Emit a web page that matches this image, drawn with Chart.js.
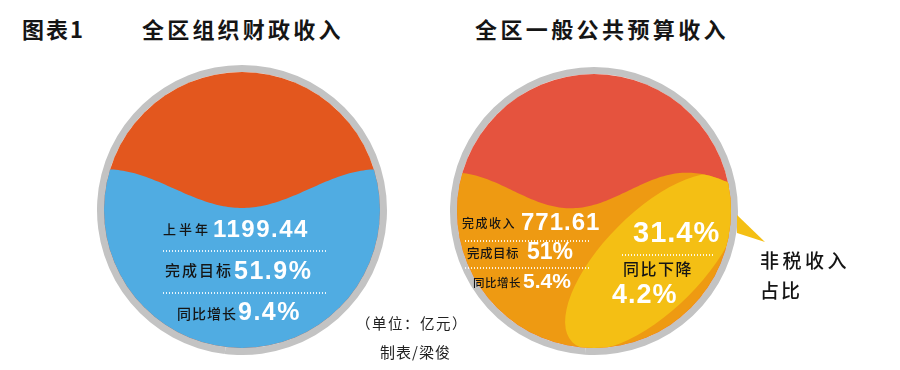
<!DOCTYPE html>
<html><head><meta charset="utf-8">
<script src="https://cdn.jsdelivr.net/npm/chart.js@4.4.1/dist/chart.umd.min.js"></script>
<style>
html,body{margin:0;padding:0;background:#fff}
body{width:900px;height:370px;position:relative;overflow:hidden;font-family:"Noto Sans CJK SC","Noto Sans",sans-serif}
.t{position:absolute;white-space:nowrap;line-height:1}
.num{font-family:"Liberation Sans",Arial,sans-serif;font-weight:700;color:#fff}
.dots{position:absolute;height:2px;background-image:linear-gradient(to right,rgba(255,255,255,.85) 50%,transparent 50%);background-size:3px 2px}
canvas{position:absolute}
</style>
</head><body>
<canvas id="c1" width="290" height="290" style="left:97px;top:65px"></canvas>
<canvas id="c2" width="330" height="288" style="left:450px;top:67px"></canvas>
<script>
// ---- data ----
const figureLabel = "图表1";
const categories = ["全区组织财政收入", "全区一般公共预算收入"];
const revenueLabels = ["上半年", "完成收入"];
const revenueValues = [1199.44, 771.61];
const targetLabel = "完成目标";
const targetPercent = [51.9, 51];
const growthLabel = "同比增长";
const growthPercent = [9.4, 5.4];
const nonTaxShare = [31.4];
const nonTaxChangeLabel = "同比下降";
const nonTaxChange = [4.2];
const nonTaxCaption = ["非税收入", "占比"];
const unitNote = "（单位：亿元）";
const credit = "制表/梁俊";

// ---- helpers for text ----
function addText(txt, x, inkTop, size, o) {
  o = o || {};
  const d = document.createElement('div');
  d.className = 't' + (o.num ? ' num' : '');
  d.textContent = txt;
  const k = o.num ? 0.13 : 0.1;
  d.style.left = x + 'px';
  d.style.top = (inkTop - k * size) + 'px';
  d.style.fontSize = size + 'px';
  if (o.ls != null) d.style.letterSpacing = o.ls + 'px';
  if (!o.num) { d.style.color = o.color || '#151515'; d.style.fontWeight = o.weight || 500; }
  document.body.appendChild(d);
}
function addDots(x1, x2, y) {
  const d = document.createElement('div');
  d.className = 'dots';
  d.style.left = x1 + 'px'; d.style.top = y + 'px'; d.style.width = (x2 - x1) + 'px';
  document.body.appendChild(d);
}

// ---- liquid fill plugin (draws inside doughnut's cutout) ----
const liquidPlugin = {
  id: 'liquid',
  afterDatasetsDraw(chart, args, o) {
    const arc = chart.getDatasetMeta(0).data[0];
    const cx = arc.x, cy = arc.y, r = arc.innerRadius;
    const ctx = chart.ctx;
    const wavePath = () => {
      ctx.beginPath();
      ctx.moveTo(cx - r - 2, cy + r + 2);
      for (let i = 0; i <= 120; i++) {
        const dx = -r - 2 + (2 * r + 4) * i / 120;
        const y = cy + r * (o.base + o.amp * Math.cos(Math.PI * (dx / r - o.shift) / o.half));
        ctx.lineTo(cx + dx, y);
      }
      ctx.lineTo(cx + r + 2, cy + r + 2);
      ctx.closePath();
    };
    ctx.save();
    ctx.beginPath(); ctx.arc(cx, cy, r, 0, Math.PI * 2); ctx.clip();
    ctx.fillStyle = o.top; ctx.fillRect(cx - r, cy - r, 2 * r, 2 * r);
    wavePath(); ctx.fillStyle = o.bottom; ctx.fill();
    if (o.ellipse) {
      const e = o.ellipse;
      wavePath(); ctx.clip();
      ctx.beginPath();
      ctx.ellipse(cx + e.dx * r, cy + e.dy * r, e.a * r, e.b * r, e.rot, 0, Math.PI * 2);
      ctx.fillStyle = e.color; ctx.fill();
    }
    ctx.restore();
    if (o.callout) {
      const c = o.callout, R = arc.outerRadius;
      ctx.save();
      ctx.beginPath();
      ctx.moveTo(cx + R - 1, cy + c.y1);
      ctx.lineTo(cx + R - 1, cy + c.y2);
      ctx.lineTo(cx + R + c.len, cy + c.tipY);
      ctx.closePath();
      ctx.fillStyle = c.color; ctx.fill();
      ctx.restore();
    }
  }
};

function makeGauge(id, idx, cutout, pad, liquid) {
  return new Chart(document.getElementById(id), {
    type: 'doughnut',
    data: {
      labels: [targetLabel, ''],
      datasets: [{
        data: [targetPercent[idx], 100 - targetPercent[idx]],
        backgroundColor: ['#c3c3c3', '#c3c3c3'],
        borderWidth: 0
      }]
    },
    options: {
      responsive: false, animation: false, devicePixelRatio: 1,
      cutout: cutout,
      layout: { padding: pad },
      events: [],
      plugins: { legend: { display: false }, tooltip: { enabled: false }, title: { display: false }, liquid: liquid }
    },
    plugins: [liquidPlugin]
  });
}

makeGauge('c1', 0, 138, 0, {
  top: '#e3571e', bottom: '#50ace2',
  base: -0.155, amp: 0.14, shift: 0, half: 0.985
});
makeGauge('c2', 1, 137, { right: 42 }, {
  top: '#e5533e', bottom: '#ee9a12',
  base: -0.15, amp: 0.13, shift: -0.17, half: 0.85,
  ellipse: { dx: 0.432, dy: 0.367, a: 0.835, b: 0.36, rot: -Math.PI / 4, color: '#f4bf14' },
  callout: { y1: 4, y2: 22, len: 27, tipY: 31, color: '#f4bf14' }
});

// ---- titles ----
addText(figureLabel, 22, 19, 22, { ls: 2, weight: 700 });
addText(categories[0], 142, 19, 22, { ls: 3.2, weight: 700 });
addText(categories[1], 475, 19, 22, { ls: 3.4, weight: 700 });

// ---- left gauge text ----
addText(revenueLabels[0], 163, 223, 13, { ls: 3 });
addText(revenueValues[0].toFixed(2), 213, 220, 24, { num: 1, ls: 1.5 });
addDots(163, 327, 250);
addText(targetLabel, 165, 263, 15, { ls: 2 });
addText(targetPercent[0] + '%', 234, 261, 25, { num: 1, ls: 1.5 });
addDots(163, 327, 292);
addText(growthLabel, 177, 307, 14, { ls: 1 });
addText(growthPercent[0] + '%', 238, 302, 25, { num: 1, ls: 1.5 });

// ---- right gauge text ----
addText(revenueLabels[1], 462, 218, 12, { ls: 1.5 });
addText(revenueValues[1].toFixed(2), 521, 213, 24, { num: 1, ls: 1 });
addDots(465, 590, 240);
addText(targetLabel, 467, 248, 12.5, { ls: 0.5 });
addText(targetPercent[1] + '%', 527, 243, 23, { num: 1 });
addDots(465, 590, 267);
addText(growthLabel, 473, 278, 11.5, { ls: 0.5 });
addText(growthPercent[1] + '%', 523, 273, 21, { num: 1 });

addText(nonTaxShare[0] + '%', 633, 222, 29, { num: 1, ls: 1 });
addDots(622, 713, 254);
addText(nonTaxChangeLabel, 623, 262, 16, { ls: 1.5 });
addText(nonTaxChange[0] + '%', 612, 285, 27, { num: 1, ls: 1 });

addText(nonTaxCaption[0], 760, 252, 19, { ls: 3.5 });
addText(nonTaxCaption[1], 760, 282, 19, { ls: 2 });

// ---- notes ----
addText(unitNote, 356, 317, 14.5, { weight: 400, color: '#222', ls: 1.5 });
addText(credit, 380, 345, 15, { weight: 400, color: '#222', ls: 1 });
</script>
</body></html>
